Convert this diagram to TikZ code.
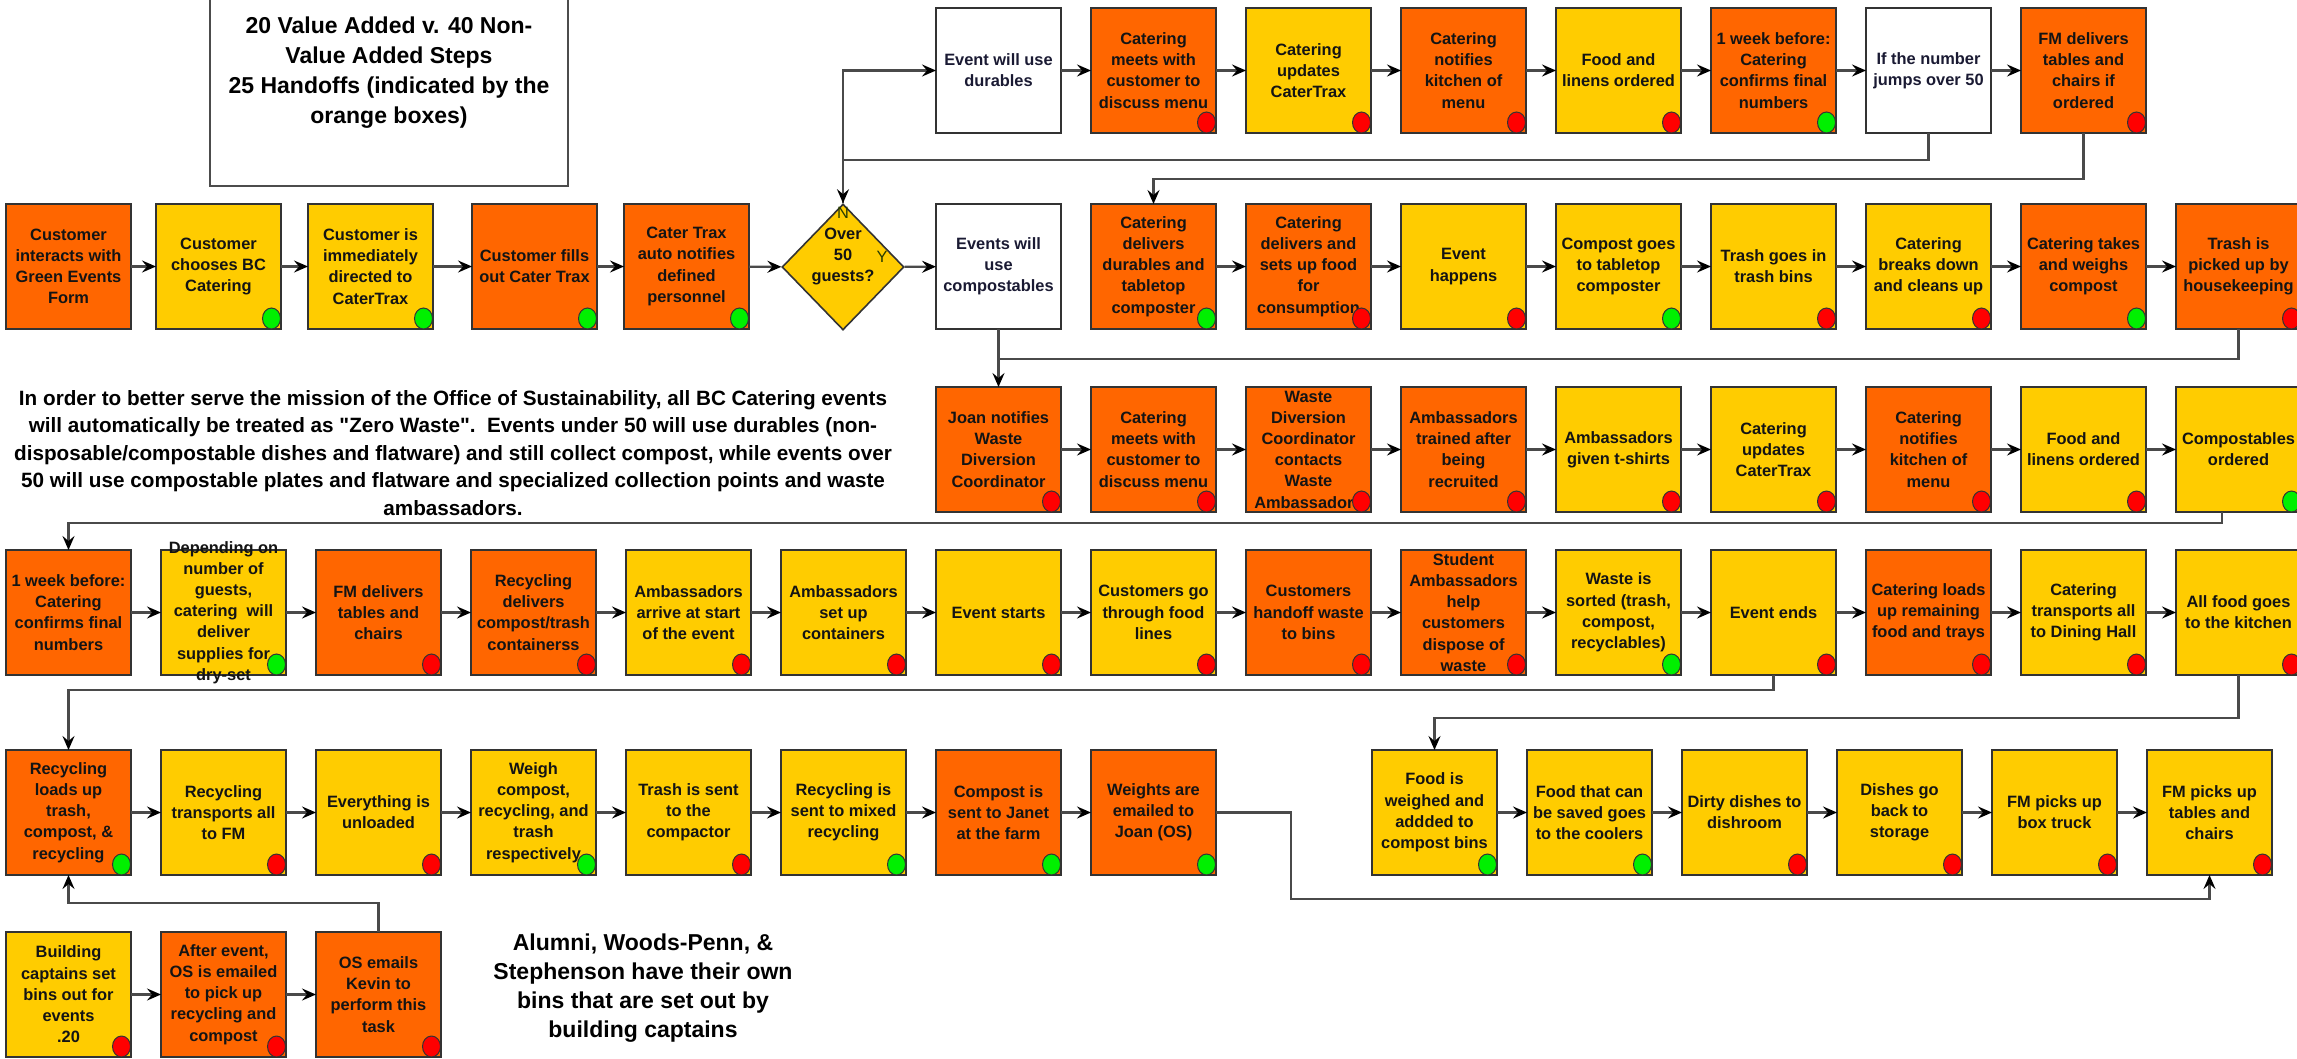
\documentclass[tikz,border=0pt]{standalone}
\usepackage{fontspec}
\setmainfont{Liberation Sans}[Ligatures=TeXOff]
\usetikzlibrary{arrows.meta,shapes.geometric}
\definecolor{org}{HTML}{FF6600}
\definecolor{yel}{HTML}{FFCC00}
\definecolor{dgreen}{HTML}{00F000}
\definecolor{dred}{HTML}{FF0000}
\definecolor{lnc}{HTML}{4A4A4A}
\definecolor{wtx}{HTML}{1A1A33}
\tikzset{
  pbox/.style={draw=black!80, line width=1.6pt, minimum width=125pt, minimum height=125pt, inner sep=0pt, outer sep=0pt},
  ptext/.style={align=center, inner sep=0pt, font=\fontsize{16.4}{21.2}\selectfont\bfseries, text=black!92},
  wtext/.style={align=center, inner sep=0pt, font=\fontsize{16.4}{21.2}\selectfont\bfseries, text=wtx},
  conn/.style={draw=lnc, line width=2.2pt, -{Stealth[length=14pt,width=12pt,inset=5pt,color=black]}},
  plainln/.style={draw=lnc, line width=2.2pt},
  dotst/.style={draw=black!80, line width=1pt},
}
\newcommand\bx[5]{\node[pbox,fill=#4] (#1) at ({#2+62.5},{#3+62.5}) {};\node[ptext] at (#1.center) {#5};}
\newcommand\wbx[4]{\node[pbox,fill=white] (#1) at ({#2+62.5},{#3+62.5}) {};\node[wtext] at (#1.center) {#4};}
\newcommand\RD[1]{\filldraw[dotst, fill=dred] ([xshift=-9.5pt,yshift=10.5pt]#1.south east) ellipse [x radius=9pt, y radius=10.5pt];}
\newcommand\GD[1]{\filldraw[dotst, fill=dgreen] ([xshift=-9.5pt,yshift=10.5pt]#1.south east) ellipse [x radius=9pt, y radius=10.5pt];}
\begin{document}
\begin{tikzpicture}[x=1pt,y=-1pt]
\useasboundingbox (0,0) rectangle (2297,1058);
\fill[white] (0,0) rectangle (2297,1058);
% title box
\node[draw=black!70, line width=1.4pt, minimum width=358pt, minimum height=190pt, inner sep=0pt] (title) at (389,91) {};
\node[align=center, inner sep=0pt, font=\fontsize{23}{30}\selectfont\bfseries] (titletext) at (389,72.5) {20 Value Added v. 40 Non-\\Value Added Steps\\25 Handoffs (indicated by the\\orange boxes)};
% paragraph
\node[align=center, inner sep=0pt, font=\fontsize{20.7}{27.5}\selectfont\bfseries] (para) at (453,453) {In order to better serve the mission of the Office of Sustainability, all BC Catering events\\will automatically be treated as "Zero Waste".\ \ Events under 50 will use durables (non-\\disposable/compostable dishes and flatware) and still collect compost, while events over\\50 will use compostable plates and flatware and specialized collection points and waste\\ambassadors.};
\node[align=center, inner sep=0pt, font=\fontsize{23}{29}\selectfont\bfseries] (alumni) at (643,988.5) {Alumni, Woods-Penn, \&\\Stephenson have their own\\bins that are set out by\\building captains};
% row A
\wbx{a6}{936}{8}{Event will use\\durables}
\bx{a7}{1091}{8}{org}{Catering\\meets with\\customer to\\discuss menu}\RD{a7}
\bx{a8}{1246}{8}{yel}{Catering\\updates\\CaterTrax}\RD{a8}
\bx{a9}{1401}{8}{org}{Catering\\notifies\\kitchen of\\menu}\RD{a9}
\bx{a10}{1556}{8}{yel}{Food and\\linens ordered}\RD{a10}
\bx{a11}{1711}{8}{org}{1 week before:\\Catering\\confirms final\\numbers}\GD{a11}
\wbx{a12}{1866}{8}{If the number\\jumps over 50}
\bx{a13}{2021}{8}{org}{FM delivers\\tables and\\chairs if\\ordered}\RD{a13}
% row B
\bx{b0}{6}{204}{org}{Customer\\interacts with\\Green Events\\Form}
\bx{b1}{156}{204}{yel}{Customer\\chooses BC\\Catering}\GD{b1}
\bx{b2}{308}{204}{yel}{Customer is\\immediately\\directed to\\CaterTrax}\GD{b2}
\bx{b3}{472}{204}{org}{Customer fills\\out Cater Trax}\GD{b3}
\bx{b4}{624}{204}{org}{Cater Trax\\auto notifies\\defined\\personnel}\GD{b4}
\node[diamond, draw=black!80, line width=1.6pt, fill=yel, minimum width=122pt, minimum height=126pt, inner sep=0pt] (dm) at (843,267) {};
\node[ptext] (dmtext) at (843,256.5) {Over\\50\\guests?};
\node[ptext, font=\fontsize{16.4}{21.2}\selectfont, text={rgb,255:red,40;green,60;blue,0}] (dmn) at (843,213) {N};
\node[ptext, font=\fontsize{16.4}{21.2}\selectfont, text={rgb,255:red,40;green,60;blue,0}] (dmy) at (882,257) {Y};
\wbx{b6}{936}{204}{Events will\\use\\compostables}
\bx{b7}{1091}{204}{org}{Catering\\delivers\\durables and\\tabletop\\composter}\GD{b7}
\bx{b8}{1246}{204}{org}{Catering\\delivers and\\sets up food\\for\\consumption}\RD{b8}
\bx{b9}{1401}{204}{yel}{Event\\happens}\RD{b9}
\bx{b10}{1556}{204}{yel}{Compost goes\\to tabletop\\composter}\GD{b10}
\bx{b11}{1711}{204}{yel}{Trash goes in\\trash bins}\RD{b11}
\bx{b12}{1866}{204}{yel}{Catering\\breaks down\\and cleans up}\RD{b12}
\bx{b13}{2021}{204}{org}{Catering takes\\and weighs\\compost}\GD{b13}
\bx{b14}{2176}{204}{org}{Trash is\\picked up by\\housekeeping}\RD{b14}
% row C
\bx{c6}{936}{387}{org}{Joan notifies\\Waste\\Diversion\\Coordinator}\RD{c6}
\bx{c7}{1091}{387}{org}{Catering\\meets with\\customer to\\discuss menu}\RD{c7}
\bx{c8}{1246}{387}{org}{Waste\\Diversion\\Coordinator\\contacts\\Waste\\Ambassadors}\RD{c8}
\bx{c9}{1401}{387}{org}{Ambassadors\\trained after\\being\\recruited}\RD{c9}
\bx{c10}{1556}{387}{yel}{Ambassadors\\given t-shirts}\RD{c10}
\bx{c11}{1711}{387}{yel}{Catering\\updates\\CaterTrax}\RD{c11}
\bx{c12}{1866}{387}{org}{Catering\\notifies\\kitchen of\\menu}\RD{c12}
\bx{c13}{2021}{387}{yel}{Food and\\linens ordered}\RD{c13}
\bx{c14}{2176}{387}{yel}{Compostables\\ordered}\GD{c14}
% row D
\bx{d0}{6}{550}{org}{1 week before:\\Catering\\confirms final\\numbers}
\bx{d1}{161}{550}{yel}{Depending on\\number of\\guests,\\catering\ \ will\\deliver\\supplies for\\dry-set}\GD{d1}
\bx{d2}{316}{550}{org}{FM delivers\\tables and\\chairs}\RD{d2}
\bx{d3}{471}{550}{org}{Recycling\\delivers\\compost/trash\\containerss}\RD{d3}
\bx{d4}{626}{550}{yel}{Ambassadors\\arrive at start\\of the event}\RD{d4}
\bx{d5}{781}{550}{yel}{Ambassadors\\set up\\containers}\RD{d5}
\bx{d6}{936}{550}{yel}{Event starts}\RD{d6}
\bx{d7}{1091}{550}{yel}{Customers go\\through food\\lines}\RD{d7}
\bx{d8}{1246}{550}{org}{Customers\\handoff waste\\to bins}\RD{d8}
\bx{d9}{1401}{550}{org}{Student\\Ambassadors\\help\\customers\\dispose of\\waste}\RD{d9}
\bx{d10}{1556}{550}{yel}{Waste is\\sorted (trash,\\compost,\\recyclables)}\GD{d10}
\bx{d11}{1711}{550}{yel}{Event ends}\RD{d11}
\bx{d12}{1866}{550}{org}{Catering loads\\up remaining\\food and trays}\RD{d12}
\bx{d13}{2021}{550}{yel}{Catering\\transports all\\to Dining Hall}\RD{d13}
\bx{d14}{2176}{550}{yel}{All food goes\\to the kitchen}\RD{d14}
% row E
\bx{e0}{6}{750}{org}{Recycling\\loads up\\trash,\\compost, \&\\recycling}\GD{e0}
\bx{e1}{161}{750}{yel}{Recycling\\transports all\\to FM}\RD{e1}
\bx{e2}{316}{750}{yel}{Everything is\\unloaded}\RD{e2}
\bx{e3}{471}{750}{yel}{Weigh\\compost,\\recycling, and\\trash\\respectively}\GD{e3}
\bx{e4}{626}{750}{yel}{Trash is sent\\to the\\compactor}\RD{e4}
\bx{e5}{781}{750}{yel}{Recycling is\\sent to mixed\\recycling}\GD{e5}
\bx{e6}{936}{750}{org}{Compost is\\sent to Janet\\at the farm}\GD{e6}
\bx{e7}{1091}{750}{org}{Weights are\\emailed to\\Joan (OS)}\GD{e7}
\bx{f0}{1372}{750}{yel}{Food is\\weighed and\\addded to\\compost bins}\GD{f0}
\bx{f1}{1527}{750}{yel}{Food that can\\be saved goes\\to the coolers}\GD{f1}
\bx{f2}{1682}{750}{yel}{Dirty dishes to\\dishroom}\RD{f2}
\bx{f3}{1837}{750}{yel}{Dishes go\\back to\\storage}\RD{f3}
\bx{f4}{1992}{750}{yel}{FM picks up\\box truck}\RD{f4}
\bx{f5}{2147}{750}{yel}{FM picks up\\tables and\\chairs}\RD{f5}
% row F
\bx{g0}{6}{932}{yel}{Building\\captains set\\bins out for\\events\\.20}\RD{g0}
\bx{g1}{161}{932}{org}{After event,\\OS is emailed\\to pick up\\recycling and\\compost}\RD{g1}
\bx{g2}{316}{932}{org}{OS emails\\Kevin to\\perform this\\task}\RD{g2}
% routing coordinates
\coordinate (yA1) at (0,160);
\coordinate (yA2) at (0,179);
\coordinate (yB) at (0,359);
\coordinate (xC) at (2222,0);
\coordinate (yC) at (0,523);
\coordinate (yD) at (0,690);
\coordinate (yD2) at (0,718);
\coordinate (xE) at (1291,0);
\coordinate (yE) at (0,899);
\coordinate (yF) at (0,903);
% chains
\foreach \p/\q in {a6/a7,a7/a8,a8/a9,a9/a10,a10/a11,a11/a12,a12/a13,
  b0/b1,b1/b2,b2/b3,b3/b4,b4/dm,dm/b6,b7/b8,b8/b9,b9/b10,b10/b11,b11/b12,b12/b13,b13/b14,
  c6/c7,c7/c8,c8/c9,c9/c10,c10/c11,c11/c12,c12/c13,c13/c14,
  d0/d1,d1/d2,d2/d3,d3/d4,d4/d5,d5/d6,d6/d7,d7/d8,d8/d9,d9/d10,d10/d11,d11/d12,d12/d13,d13/d14,
  e0/e1,e1/e2,e2/e3,e3/e4,e4/e5,e5/e6,e6/e7,
  f0/f1,f1/f2,f2/f3,f3/f4,f4/f5,g0/g1,g1/g2}
  {\draw[conn] (\p) -- (\q);}
% routed connectors
\draw[conn] (dm.north) |- (a6.west);
\draw[conn] (a12.south) -- (a12.south |- yA1) -- (dm.north |- yA1) -- (dm.north);
\draw[conn] (a13.south) -- (a13.south |- yA2) -- (b7.north |- yA2) -- (b7.north);
\draw[conn] (b6.south) -- (c6.north);
\draw[plainln] (b14.south) -- (b14.south |- yB) -- (c6.north |- yB);
\draw[conn] (xC |- c14.south) -- (xC |- yC) -- (d0.north |- yC) -- (d0.north);
\draw[conn] (d11.south) -- (d11.south |- yD) -- (e0.north |- yD) -- (e0.north);
\draw[conn] (d14.south) -- (d14.south |- yD2) -- (f0.north |- yD2) -- (f0.north);
\draw[conn] (e7.east) -- (xE |- e7.east) -- (xE |- yE) -- (f5.south |- yE) -- (f5.south);
\draw[conn] (g2.north) -- (g2.north |- yF) -- (e0.south |- yF) -- (e0.south);
\end{tikzpicture}
\end{document}
